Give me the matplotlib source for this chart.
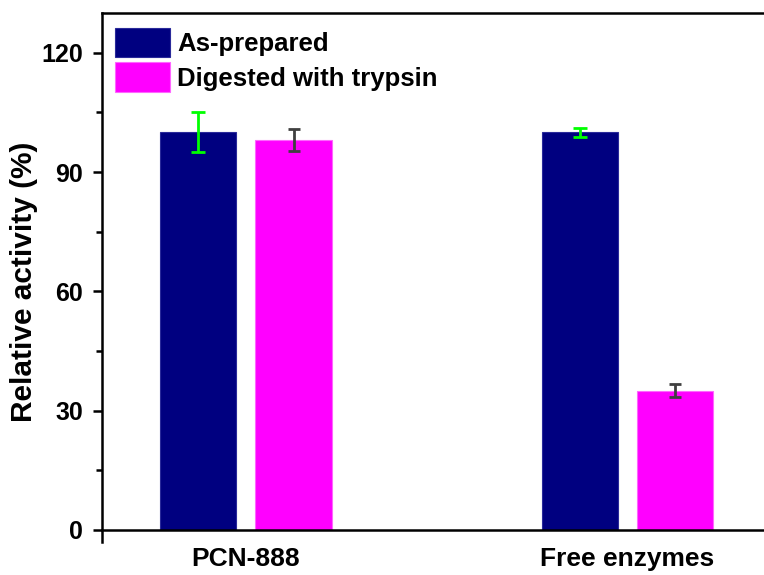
import numpy as np
import matplotlib
matplotlib.use("Agg")
from matplotlib import pyplot as plt

# activity data (%)
groups = ["PCN-888", "Free enzymes"]
series = ["As-prepared", "Digested with trypsin"]
as_prepared = [100, 100]
as_prepared_err = [5, 1.1]
digested = [98, 35]
digested_err = [2.8, 1.6]

plt.rcParams['font.family'] = ['Liberation Sans', 'DejaVu Sans']
plt.rcParams['font.weight'] = 'bold'

fig = plt.figure(figsize=(7.64, 5.75), dpi=100)
ax = fig.add_axes([0.1335, 0.0783, 0.876, 0.8991])

x = np.arange(len(groups))
w = 0.2
off = 0.125

ax.bar(x - off, as_prepared, w, color='#000080', edgecolor='#2a2a9a', linewidth=0.8,
       label=series[0])
ax.bar(x + off, digested, w, color='#ff00ff', edgecolor='#ff66ff', linewidth=0.8,
       label=series[1])
ax.errorbar(x - off, as_prepared, yerr=as_prepared_err, fmt='none', ecolor='#00ff00',
            elinewidth=2, capsize=5, capthick=2)
ax.errorbar(x + off, digested, yerr=digested_err, fmt='none', ecolor='#404040',
            elinewidth=2, capsize=4.5, capthick=2)

ax.set_xlim(-0.377, 1.377)
ax.set_ylim(0, 130)
ax.set_yticks([0, 30, 60, 90, 120])
ax.set_yticks([15, 45, 75, 105], minor=True)
ax.set_xticks(x)
ax.set_xticklabels(groups)
ax.set_ylabel("Relative activity (%)", fontsize=21.5, fontweight='bold')
ax.yaxis.set_label_coords(-0.096, 0.48)

for s in ax.spines.values():
    s.set_linewidth(1.8)
ax.spines['left'].set_bounds(-3, 130)
ax.tick_params(axis='y', which='major', direction='out', length=6.5, width=1.8,
               labelsize=18, pad=7)
ax.tick_params(axis='y', which='minor', direction='out', length=4, width=1.8)
ax.tick_params(axis='x', length=0, labelsize=19, pad=12.5)
for lab in ax.get_xticklabels() + ax.get_yticklabels():
    lab.set_fontweight('bold')

ax.legend(loc='upper left', bbox_to_anchor=(0.0, 0.997), frameon=False,
          handlelength=2.14, handleheight=1.38, labelspacing=0.2, handletextpad=0.27,
          borderaxespad=0.12, prop={'weight': 'bold', 'size': 18.5})

fig.savefig("out.png", dpi=100)
